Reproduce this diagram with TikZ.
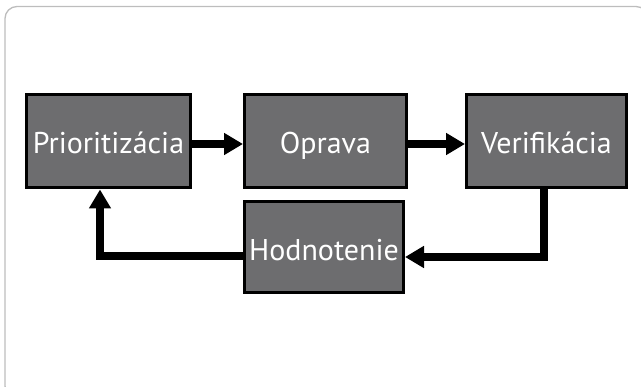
\documentclass[tikz,border=0pt]{standalone}
\usepackage{fontspec}
\setmainfont{PT Sans}
\usetikzlibrary{arrows.meta}
\definecolor{stagegray}{HTML}{6D6D6F}
\definecolor{framegray}{HTML}{BDBDBD}
\tikzset{
  stage/.style={draw=black, line width=3pt, fill=stagegray, text=white,
    inner sep=0pt, text height=28pt, text depth=4pt,
    font=\fontsize{30}{34}\selectfont},
  flow/.style={line width=8pt, -{Triangle[length=19pt,width=21pt]}},
}
\begin{document}
\begin{tikzpicture}[x=1pt,y=-1pt]
  \useasboundingbox (0,0) rectangle (641,387);
  \clip (0,0) rectangle (641,387);

  % outer frame
  \draw [framegray, line width=1.3pt, rounded corners=12pt] (5,6.5) rectangle (648,398);

  % stages
  \node [stage, minimum width=164pt, minimum height=93pt] (prio) at (108.5,141.5) {Prioritizácia};
  \node [stage, minimum width=162pt, minimum height=93pt] (oprava) at (325.5,141.5) {Oprava};
  \node [stage, minimum width=160pt, minimum height=93pt] (verif) at (546.5,141.5) {Verifikácia};
  \node [stage, minimum width=159pt, minimum height=91pt, text depth=1pt] (hodn) at (324,247) {Hodnotenie};

  % connectors
  \draw [flow] ([yshift=-2.5pt]prio.east) -- ([yshift=-2.5pt]oprava.west);
  \draw [flow] ([yshift=-2.5pt]oprava.east) -- ([yshift=-2.5pt]verif.west);
  \draw [flow] ([xshift=-2.5pt]verif.south) |- ([yshift=-10pt]hodn.east);
  \draw [flow] ([yshift=-9pt]hodn.west) -| ([xshift=-8.5pt]prio.south);
\end{tikzpicture}
\end{document}
